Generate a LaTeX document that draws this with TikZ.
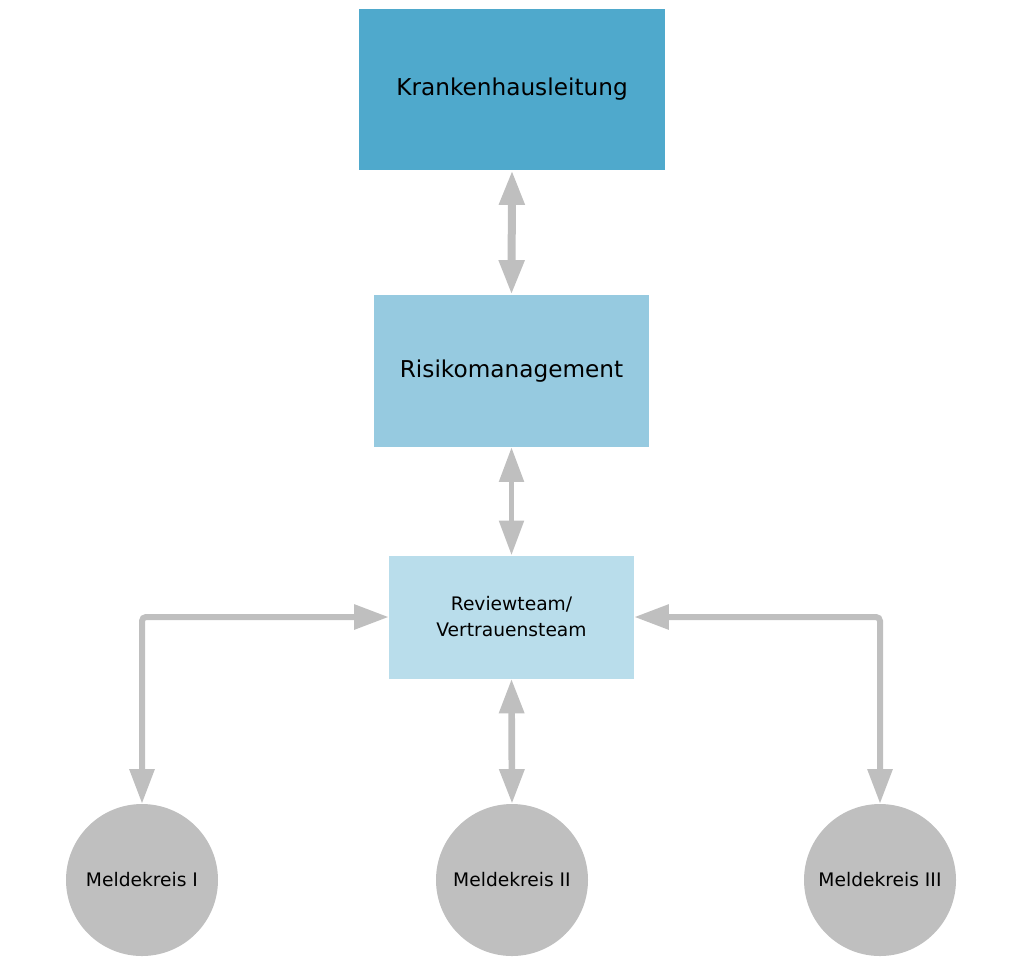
\documentclass[tikz,border=0pt]{standalone}
\usepackage{fontspec}
\setmainfont{DejaVu Sans}
\usetikzlibrary{arrows.meta}
\definecolor{topblue}{HTML}{4FA9CC}
\definecolor{midblue}{HTML}{96CAE0}
\definecolor{lowblue}{HTML}{B9DDEB}
\definecolor{arrowgray}{HTML}{BFBFBF}
\begin{document}
\begin{tikzpicture}[x=0.75pt,y=-0.75pt,
  box/.style={draw=none,inner sep=0pt,text=black},
  meld/.style={circle,fill=arrowgray,minimum size=114pt,inner sep=0pt,font=\fontsize{14}{16}\selectfont},
  conn/.style={draw=arrowgray,line width=4.5pt,rounded corners=3pt,
    {Triangle[length=26pt,width=18pt]}-{Triangle[length=26pt,width=18pt]}}
]
\useasboundingbox (0,0) rectangle (1034,961);
\node[box,fill=topblue,minimum width=229.5pt,minimum height=120.75pt,font=\fontsize{17.4}{20}\selectfont] (kh) at (512,89.5) {Krankenhausleitung};
\node[box,fill=midblue,minimum width=206.25pt,minimum height=114pt,font=\fontsize{17.4}{20}\selectfont] (rm) at (511.5,371) {Risikomanagement};
\node[box,fill=lowblue,minimum width=183.75pt,minimum height=92.25pt,font=\fontsize{14}{19.5}\selectfont,align=center] (rt) at (511.5,617) {Reviewteam/\\Vertrauensteam};
\node[meld] (m1) at (142,880) {Meldekreis I};
\node[meld] (m2) at (512,880) {Meldekreis II};
\node[meld] (m3) at (880,880) {Meldekreis III};
\draw[conn,line width=6pt] (kh.south) -- (rm.north);
\draw[conn,line width=4pt] (rm.south) -- (rt.north);
\draw[conn,line width=5pt] (rt.south) -- (m2.north);
\draw[conn] (rt.west) -| (m1.north);
\draw[conn] (rt.east) -| (m3.north);
\end{tikzpicture}
\end{document}
